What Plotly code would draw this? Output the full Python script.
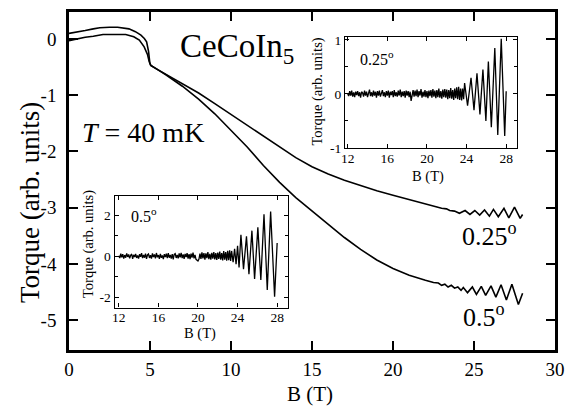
import plotly.graph_objects as go

# ---------------- main panel data (B in T, torque in arb. units) ----------------
B_main_025 = [0.0, 0.3, 0.6, 1.0, 1.5, 2.1, 2.5, 3.0, 3.5, 4.0, 4.34, 4.64, 4.85, 4.95, 5.05,
              5.5, 6.0, 7.0, 8.0, 9.0, 10.0, 11.0, 12.0, 13.0, 14.0, 15.0, 16.0, 17.0, 18.0,
              19.0, 20.0, 21.0, 22.0, 22.5, 23.0, 23.3, 23.5, 23.8, 24.1, 24.45, 24.75, 25.05,
              25.35, 25.65, 25.95, 26.2, 26.5, 26.85, 27.15, 27.5, 27.85, 28.0]
T_main_025 = [-0.03, -0.01, 0.0, 0.03, 0.05, 0.08, 0.08, 0.08, 0.08, 0.04, -0.02, -0.14, -0.28, -0.40, -0.47,
              -0.55, -0.63, -0.80, -0.96, -1.15, -1.34, -1.53, -1.72, -1.92, -2.11, -2.27, -2.40, -2.51, -2.61,
              -2.70, -2.78, -2.86, -2.94, -2.97, -3.01, -3.02, -3.05, -3.06, -3.10, -3.05, -3.12, -3.05,
              -3.13, -3.04, -3.15, -3.03, -3.16, -3.01, -3.18, -2.99, -3.19, -3.12]

B_main_05 = [0.0, 0.5, 1.0, 1.5, 1.9, 2.5, 3.0, 3.7, 4.1, 4.44, 4.65, 4.79, 4.91, 4.99, 5.05,
             5.5, 6.0, 7.0, 8.0, 9.0, 10.0, 11.0, 12.0, 13.0, 14.0, 15.0, 16.0, 17.0, 18.0,
             19.0, 20.0, 21.0, 22.0, 22.5, 22.8, 23.0, 23.2, 23.4, 23.6, 23.8, 24.0, 24.2, 24.34,
             24.6, 24.9, 25.15, 25.45, 25.72, 26.05, 26.35, 26.67, 27.0, 27.34, 27.74, 28.0]
T_main_05 = [0.10, 0.12, 0.15, 0.18, 0.20, 0.21, 0.21, 0.18, 0.13, 0.07, 0.01, -0.05, -0.22, -0.43, -0.47,
             -0.55, -0.64, -0.84, -1.07, -1.33, -1.62, -1.92, -2.25, -2.55, -2.82, -3.06, -3.30, -3.53, -3.74,
             -3.93, -4.08, -4.20, -4.29, -4.33, -4.34, -4.38, -4.36, -4.41, -4.38, -4.43, -4.41, -4.47, -4.42,
             -4.51, -4.41, -4.54, -4.40, -4.56, -4.39, -4.59, -4.37, -4.64, -4.36, -4.72, -4.52]

# ---------------- inset data: oscillatory torque ----------------
B_grid = [round(12.0 + 0.1 * i, 1) for i in range(114)]   # field sampling 12.0 ... 23.3 T

noise_025 = [0.00, -0.04, 0.05, -0.03, 0.06, -0.05, 0.03, -0.06, 0.04, -0.02,
             0.05, -0.04, 0.03, -0.07, 0.04, 0.02, -0.05, 0.06, -0.03, 0.04,
             -0.06, 0.05, 0.08, -0.04, 0.03, -0.05, 0.06, -0.03, 0.04, -0.07,
             0.05, -0.03, 0.06, -0.05, 0.02, 0.07, -0.04, 0.03, -0.06, 0.05,
             -0.03, 0.06, -0.07, 0.04, -0.02, 0.05, -0.06, 0.07, -0.04, 0.03,
             -0.05, 0.06, -0.03, 0.08, -0.06, 0.04, -0.04, 0.05, -0.07, 0.06,
             -0.03, 0.05, -0.06, 0.04, -0.13, 0.03, 0.07, -0.05, 0.06, -0.04,
             0.08, -0.06, 0.05, -0.03, 0.09, -0.07, 0.04, -0.05, 0.07, -0.06,
             0.05, -0.08, 0.06, -0.04, 0.07, -0.07, 0.09, -0.05, 0.06, -0.08,
             0.07, -0.06, 0.10, -0.07, 0.05, -0.09, 0.08, -0.06, 0.09, -0.07,
             0.08, -0.10, 0.07, -0.08, 0.11, -0.09, 0.07, -0.11, 0.10, -0.08,
             0.12, -0.10, 0.13, -0.11]
B_osc_025 = [23.4, 23.5, 23.6, 23.7, 23.8, 24.1, 24.45, 24.75, 25.05, 25.35, 25.65, 25.95,
             26.2, 26.5, 26.85, 27.15, 27.5, 27.85, 28.0]
T_osc_025 = [0.10, -0.12, 0.10, -0.10, 0.20, -0.22, 0.30, -0.30, 0.38, -0.38, 0.45, -0.50,
             0.60, -0.62, 0.85, -0.76, 1.02, -0.78, 0.05]

noise_05 = [0.02, -0.10, 0.12, -0.06, 0.09, -0.12, 0.05, -0.08, 0.13, -0.04,
            0.08, -0.11, 0.04, 0.10, -0.13, 0.06, -0.05, 0.11, -0.09, 0.03,
            -0.12, 0.09, -0.04, 0.14, -0.10, 0.05, -0.08, 0.12, -0.14, 0.06,
            0.10, -0.09, 0.04, -0.12, 0.13, -0.05, 0.08, -0.11, 0.15, -0.06,
            0.05, -0.13, 0.11, -0.08, 0.03, -0.15, 0.09, -0.05, 0.12, -0.10,
            0.14, -0.08, 0.06, -0.12, 0.10, -0.16, 0.08, 0.12, -0.09, 0.05,
            -0.11, 0.13, -0.06, 0.16, -0.10, 0.08, -0.14, 0.11, -0.05, 0.14,
            -0.12, 0.09, -0.15, 0.12, -0.08, 0.17, -0.11, 0.06, -0.16, -0.20,
            -0.24, -0.15, 0.12, -0.14, 0.18, -0.11, 0.15, -0.17, 0.13, -0.10,
            0.19, -0.15, 0.11, -0.18, 0.16, -0.12, 0.20, -0.16, 0.14, -0.19,
            0.17, -0.14, 0.22, -0.18, 0.15, -0.21, 0.24, -0.17, 0.20, -0.23,
            0.26, -0.20, 0.28, -0.24]
B_osc_05 = [23.4, 23.55, 23.7, 23.85, 24.0, 24.15, 24.34, 24.6, 24.9, 25.15, 25.45, 25.72,
            26.05, 26.35, 26.67, 27.0, 27.34, 27.74, 28.0]
T_osc_05 = [0.25, -0.30, 0.35, -0.40, 0.50, -0.55, 1.04, -0.64, 0.96, -0.88, 1.24, -1.12,
            1.40, -1.17, 2.04, -1.65, 2.17, -1.98, 0.64]

# tick values / labels
main_xticks = [0, 5, 10, 15, 20, 25, 30]
main_yticks = [0, -1, -2, -3, -4, -5]
main_ytext = ["0", "-1", "-2", "-3", "-4", "-5"]
inset_xticks = [12, 16, 20, 24, 28]
inset1_yticks = [-1, 0, 1]
inset1_ytext = ["-1", "0", "1"]
inset2_yticks = [-2, 0, 2]
inset2_ytext = ["-2", "0", "2"]

FONT = "Liberation Serif, Times New Roman, serif"
L = dict(color="black", width=1.6)
LI = dict(color="black", width=1.3)

fig = go.Figure()
fig.add_trace(go.Scatter(x=B_main_025, y=T_main_025, mode="lines", line=L, xaxis="x", yaxis="y"))
fig.add_trace(go.Scatter(x=B_main_05, y=T_main_05, mode="lines", line=L, xaxis="x", yaxis="y"))
fig.add_trace(go.Scatter(x=B_grid + B_osc_025, y=noise_025 + T_osc_025, mode="lines", line=LI,
                         xaxis="x2", yaxis="y2"))
fig.add_trace(go.Scatter(x=B_grid + B_osc_05, y=noise_05 + T_osc_05, mode="lines", line=LI,
                         xaxis="x3", yaxis="y3"))

main_ax = dict(showgrid=False, zeroline=False, showline=True, linecolor="black", linewidth=2.5,
               mirror="allticks", ticks="inside", ticklen=9, tickwidth=2, tickcolor="black",
               tickfont=dict(family=FONT, size=19, color="black"))
inset_ax = dict(showgrid=False, zeroline=False, showline=True, linecolor="black", linewidth=1.2,
                mirror="allticks", ticks="inside", ticklen=4, tickwidth=1, tickcolor="black",
                tickfont=dict(family=FONT, size=13.5, color="black"))

fig.update_layout(
    width=573, height=407,
    margin=dict(l=69, r=13, t=8, b=57),
    paper_bgcolor="white", plot_bgcolor="white",
    showlegend=False,
    font=dict(family=FONT, color="black"),
    xaxis=dict(main_ax, range=[0, 30], tickvals=main_xticks, domain=[0, 1], anchor="y",
               ticklabelstandoff=0),
    yaxis=dict(main_ax, range=[-5.53, 0.48], tickvals=main_yticks, ticktext=main_ytext,
               domain=[0, 1], anchor="x", ticklabelstandoff=6),
    xaxis2=dict(inset_ax, range=[11.73, 29.13], tickvals=inset_xticks, domain=[0.568, 0.9226],
                anchor="y2", ticklabelstandoff=-3),
    yaxis2=dict(inset_ax, range=[-1.01, 1.06], tickvals=inset1_yticks, ticktext=inset1_ytext,
                domain=[0.5965, 0.9269], anchor="x2", ticklabelstandoff=0,
                minor=dict(tickvals=[-0.5, 0.5], ticks="inside", ticklen=3, tickcolor="black")),
    xaxis3=dict(inset_ax, range=[11.57, 29.07], tickvals=inset_xticks, domain=[0.0937, 0.4501],
                anchor="y3", ticklabelstandoff=-3),
    yaxis3=dict(inset_ax, range=[-2.51, 2.94], tickvals=inset2_yticks, ticktext=inset2_ytext,
                domain=[0.1257, 0.4561], anchor="x3", ticklabelstandoff=0,
                minor=dict(tickvals=[-1, 1], ticks="inside", ticklen=3, tickcolor="black")),
)

def ann(text, x, y, size, angle=0):
    fig.add_annotation(text=text, x=x, y=y, xref="paper", yref="paper", showarrow=False,
                       textangle=angle, xanchor="center", yanchor="middle",
                       font=dict(family=FONT, size=size, color="black"))

ann("B (T)", 0.4949, -0.131, 21)
ann("Torque (arb. units)", -0.0815, 0.436, 27, -90)
ann("CeCoIn<sub>5</sub>", 0.345, 0.892, 33)
ann("<i>T</i> = 40 mK", 0.152, 0.643, 28)
ann("0.25<sup>o</sup>", 0.866, 0.342, 26)
ann("0.5<sup>o</sup>", 0.853, 0.102, 26)
ann("0.25<sup>o</sup>", 0.633, 0.864, 16)
ann("0.5<sup>o</sup>", 0.155, 0.40, 16)
ann("Torque (arb. units)", 0.5112, 0.7661, 14.5, -90)
ann("B (T)", 0.7393, 0.512, 14.5)
ann("Torque (arb. units)", 0.0387, 0.3129, 14.5, -90)
ann("B (T)", 0.2688, 0.048, 14.5)

fig.write_html("out.html", config={"displayModeBar": False},
               post_script="document.body.style.margin='0px';document.body.style.padding='0px';")
